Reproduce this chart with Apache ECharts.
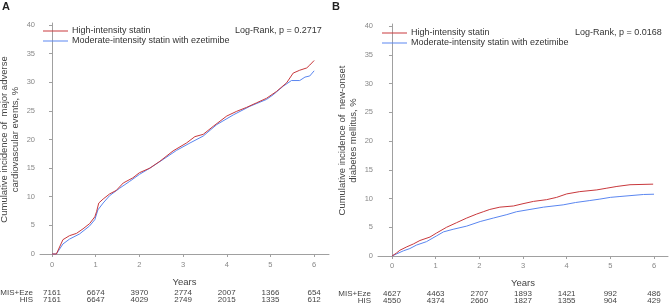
<!DOCTYPE html>
<html>
<head>
<meta charset="utf-8">
<script src="https://cdn.jsdelivr.net/npm/echarts@6/dist/echarts.min.js"></script>
<style>
  html, body { margin: 0; padding: 0; background: #fff; }
  #chart { width: 669px; height: 305px; }
</style>
</head>
<body>
<div id="chart"></div>
<script>
// panel A - MACE
var tA_HIS = [0, 0.1, 0.25, 0.4, 0.56, 0.71, 0.86, 0.98, 1.02, 1.07, 1.17, 1.32, 1.47, 1.63, 1.85, 2.0, 2.24, 2.47, 2.77, 3.08, 3.27, 3.46, 3.69, 4.0, 4.22, 4.45, 4.68, 4.91, 5.14, 5.37, 5.52, 5.67, 5.83, 5.9, 6.0];
var yA_HIS = [0, 0, 2.5, 3.2, 3.6, 4.4, 5.3, 6.5, 7.4, 8.9, 9.6, 10.5, 11.1, 12.4, 13.3, 14.2, 15.0, 16.2, 18.0, 19.4, 20.5, 20.9, 22.3, 24.1, 24.9, 25.6, 26.4, 27.2, 28.4, 29.9, 31.6, 32.1, 32.5, 33.0, 33.8];
var tA_MIS = [0, 0.1, 0.25, 0.4, 0.63, 0.86, 0.98, 1.05, 1.17, 1.32, 1.55, 1.78, 2.0, 2.24, 2.54, 2.85, 3.16, 3.46, 3.77, 4.15, 4.53, 4.91, 5.06, 5.29, 5.48, 5.67, 5.79, 5.9, 6.0];
var yA_MIS = [0, 0, 1.75, 2.6, 3.5, 4.9, 6.0, 7.7, 8.9, 10.2, 11.5, 12.7, 13.9, 15.0, 16.5, 18.1, 19.4, 20.6, 22.6, 24.3, 25.8, 27.0, 27.8, 29.3, 30.3, 30.3, 30.9, 31.1, 32.0];

// panel B - new-onset diabetes
var tB_HIS = [0, 0.03, 0.1, 0.18, 0.34, 0.49, 0.64, 0.87, 1.02, 1.25, 1.48, 1.71, 1.94, 2.09, 2.24, 2.47, 2.78, 3.0, 3.24, 3.54, 3.77, 4.0, 4.3, 4.69, 4.92, 5.15, 5.45, 5.98];
var yB_HIS = [0, 0, 0.5, 1.0, 1.6, 2.1, 2.7, 3.3, 4.0, 5.0, 5.8, 6.6, 7.3, 7.7, 8.1, 8.5, 8.7, 9.1, 9.5, 9.8, 10.2, 10.8, 11.2, 11.5, 11.8, 12.1, 12.4, 12.5];
var tB_MIS = [0, 0.03, 0.1, 0.26, 0.41, 0.56, 0.79, 1.02, 1.18, 1.4, 1.71, 2.02, 2.32, 2.63, 2.85, 3.16, 3.47, 3.92, 4.2, 4.53, 4.76, 5.0, 5.22, 5.45, 5.76, 6.0];
var yB_MIS = [0, 0, 0.35, 0.9, 1.3, 1.9, 2.5, 3.5, 4.2, 4.65, 5.2, 6.0, 6.6, 7.2, 7.7, 8.1, 8.5, 8.9, 9.3, 9.65, 9.9, 10.2, 10.35, 10.5, 10.7, 10.75];

// numbers at risk at years 0..6
var riskA_MIS = [7161, 6674, 3970, 2774, 2007, 1366, 654];
var riskA_HIS = [7161, 6647, 4029, 2749, 2015, 1335, 612];
var riskB_MIS = [4627, 4463, 2707, 1893, 1421, 992, 486];
var riskB_HIS = [4550, 4374, 2660, 1827, 1355, 904, 429];

var xTicks = [0, 1, 2, 3, 4, 5, 6];
var yTicks = [0, 5, 10, 15, 20, 25, 30, 35, 40];
var names = ['High-intensity statin', 'Moderate-intensity statin with ezetimibe'];

var red = '#c8383c';
var blue = '#5a86f0';
var axisColor = '#a0a0a0';
var font = 'Liberation Sans';

function pairs(t, y) {
    var out = [];
    for (var i = 0; i < t.length; i++) out.push([t[i], y[i]]);
    return out;
}

function mainX(g, min, max) {
    return {
        gridIndex: g, type: 'value', min: min, max: max,
        axisLine: { lineStyle: { color: axisColor, width: 1 } },
        axisTick: { customValues: xTicks, length: 3, lineStyle: { color: axisColor } },
        axisLabel: { customValues: xTicks, fontSize: 7.5, color: '#888', margin: 5, fontFamily: font },
        splitLine: { show: false },
        name: 'Years', nameLocation: 'middle', nameGap: 21,
        nameTextStyle: { fontSize: 9.5, color: '#444', fontFamily: font }
    };
}

function riskX(g, min, max, label, risk, offset) {
    return {
        gridIndex: g, type: 'value', min: min, max: max, position: 'bottom', offset: offset,
        axisLine: { show: false },
        axisTick: { show: false },
        axisLabel: {
            customValues: xTicks, fontSize: 8, color: '#444', margin: 0, verticalAlign: 'middle', fontFamily: font,
            formatter: function (v) { return String(risk[Math.round(v)]); }
        },
        splitLine: { show: false },
        name: label, nameLocation: 'start', nameGap: 7,
        nameTextStyle: { fontSize: 8, color: '#444', fontFamily: font, verticalAlign: 'middle' }
    };
}

function mainY(g, min, max, title) {
    return {
        gridIndex: g, type: 'value', min: min, max: max,
        axisLine: { show: true, lineStyle: { color: axisColor, width: 1 } },
        axisTick: { show: true, customValues: yTicks, length: 3, lineStyle: { color: axisColor } },
        axisLabel: { customValues: yTicks, fontSize: 7.5, color: '#888', margin: 5, fontFamily: font },
        splitLine: { show: false },
        name: title, nameLocation: 'middle', nameGap: 19,
        nameTextStyle: { fontSize: 9.5, color: '#444', lineHeight: 11, fontFamily: font }
    };
}

function curve(name, color, xi, yi, data) {
    return {
        name: name, type: 'line', xAxisIndex: xi, yAxisIndex: yi,
        data: data, symbol: 'none', showSymbol: false, silent: true,
        lineStyle: { color: color, width: 1 }, itemStyle: { color: color }
    };
}

function legendAt(left, top) {
    return {
        left: left, top: top, orient: 'vertical', padding: 0,
        icon: 'rect', itemWidth: 25, itemHeight: 1, itemGap: 0,
        data: names, selectedMode: false,
        textStyle: { fontSize: 9, color: '#333', lineHeight: 10, padding: [0, 0, 0, -1] }
    };
}

var chart = echarts.init(document.getElementById('chart'), null, { renderer: 'canvas' });

var option = {
    animation: false,
    backgroundColor: '#fff',
    textStyle: { fontFamily: font },
    title: [
        { text: 'A', left: 2, top: 1, padding: 0, textStyle: { fontSize: 11, fontWeight: 'bold', color: '#222' } },
        { text: 'B', left: 332, top: 1, padding: 0, textStyle: { fontSize: 11, fontWeight: 'bold', color: '#222' } },
        { text: 'Log-Rank, p = 0.2717', left: 235, top: 26, padding: 0, textStyle: { fontSize: 9, fontWeight: 'normal', color: '#333' } },
        { text: 'Log-Rank, p = 0.0168', left: 575, top: 28, padding: 0, textStyle: { fontSize: 9, fontWeight: 'normal', color: '#333' } }
    ],
    legend: [legendAt(43, 26), legendAt(382, 28)],
    grid: [
        { left: 40, top: 23, width: 289, height: 233, outerBoundsMode: 'none' },
        { left: 378, top: 24, width: 290, height: 233, outerBoundsMode: 'none' }
    ],
    xAxis: [
        mainX(0, -0.275, 6.34),
        mainX(1, -0.32, 6.32),
        riskX(0, -0.275, 6.34, 'MIS+Eze', riskA_MIS, 37),
        riskX(0, -0.275, 6.34, 'HIS', riskA_HIS, 44),
        riskX(1, -0.32, 6.32, 'MIS+Eze', riskB_MIS, 37),
        riskX(1, -0.32, 6.32, 'HIS', riskB_HIS, 44)
    ],
    yAxis: [
        mainY(0, -0.35, 40.35, 'Cumulative incidence of  major adverse\ncardiovascular events, %'),
        mainY(1, -0.17, 40.35, 'Cumulative incidence of  new-onset\ndiabetes mellitus, %')
    ],
    series: [
        curve(names[1], blue, 0, 0, pairs(tA_MIS, yA_MIS)),
        curve(names[0], red, 0, 0, pairs(tA_HIS, yA_HIS)),
        curve(names[1], blue, 1, 1, pairs(tB_MIS, yB_MIS)),
        curve(names[0], red, 1, 1, pairs(tB_HIS, yB_HIS))
    ]
};

chart.setOption(option);
</script>
</body>
</html>
